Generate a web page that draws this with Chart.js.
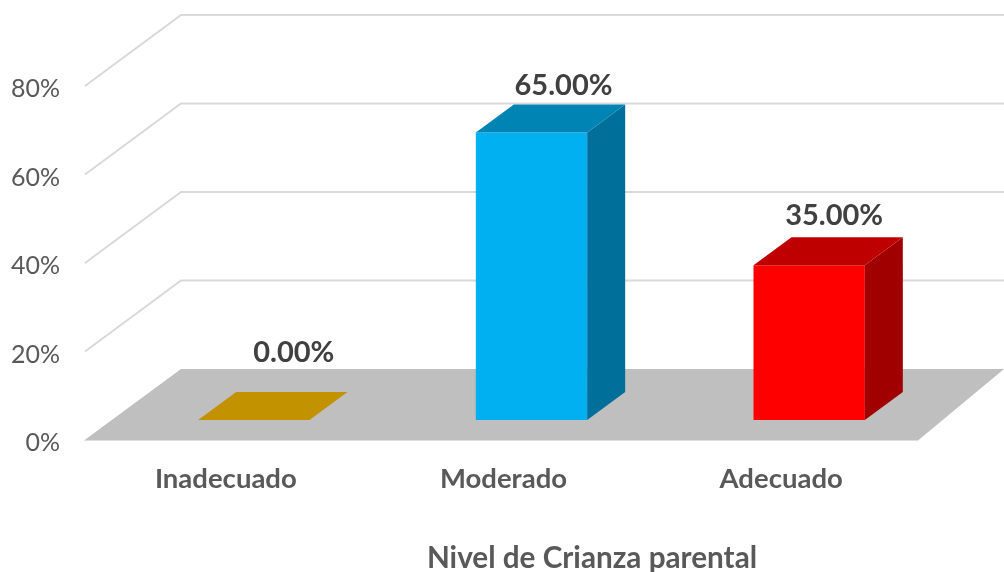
<!DOCTYPE html>
<html>
<head>
<meta charset="utf-8">
<style>
html, body { margin: 0; padding: 0; background: #fff; }
#wrap { position: relative; width: 1004px; height: 572px; }
</style>
<script src="https://cdn.jsdelivr.net/npm/chart.js@4"></script>
</head>
<body>
<div id="wrap"><canvas id="chart"></canvas></div>
<script>
// datos
const categories = ['Inadecuado', 'Moderado', 'Adecuado'];
const values = [0, 65, 35];
const valueLabels = ['0.00%', '65.00%', '35.00%'];
const frontColors = ['#C29200', '#00B0F0', '#FF0000'];
const topColors = ['#C29200', '#0084B4', '#BF0000'];
const sideColors = ['#936F00', '#006F9A', '#A00000'];
const axisTitle = 'Nivel de Crianza parental';

const FONT = 'Lato, "Open Sans", sans-serif';

// polígono relleno
function poly(ctx, pts, color) {
    ctx.fillStyle = color;
    ctx.beginPath();
    pts.forEach((p, i) => i ? ctx.lineTo(p[0], p[1]) : ctx.moveTo(p[0], p[1]));
    ctx.closePath();
    ctx.fill();
}

// piso y paredes detrás de las barras
const wallPlugin = {
    id: 'wall',
    beforeDatasetsDraw(chart) {
        const ctx = chart.ctx;
        const y = chart.scales.y;
        ctx.save();
        const z0 = y.getPixelForValue(0) + 20;
        poly(ctx, [[84, z0 + 0.5], [181, z0 - 71], [1004, z0 - 71], [918, z0 + 0.5]], '#BFBFBF');
        ctx.strokeStyle = '#D9D9D9';
        ctx.lineWidth = 2;
        y.ticks.forEach(t => {
            if (t.value === 0) return;
            const py = y.getPixelForValue(t.value) + 20;
            ctx.beginPath();
            ctx.moveTo(85, py);
            ctx.lineTo(181, py - 71);
            ctx.lineTo(1004, py - 71);
            ctx.stroke();
        });
        ctx.restore();
    }
};

// caras laterales, superiores, etiquetas y título del eje
const facesPlugin = {
    id: 'faces',
    afterDatasetsDraw(chart) {
        const ctx = chart.ctx;
        const meta = chart.getDatasetMeta(0);
        const dx = 38, dy = 28;
        // las etiquetas están movidas a mano en el original
        const nudgeX = [40, 32, 25];
        const nudgeY = [-67, -47, -49];
        ctx.save();
        meta.data.forEach((bar, i) => {
            const half = bar.width / 2;
            const l = bar.x - half, r = bar.x + half, t = bar.y, b = bar.base;
            if (b - t > 0) {
                poly(ctx, [[r, t], [r + dx, t - dy], [r + dx, b - dy], [r, b]], sideColors[i]);
            }
            poly(ctx, [[l, t], [l + dx, t - dy], [r + dx, t - dy], [r, t]], topColors[i]);
            ctx.fillStyle = '#404040';
            ctx.font = 'bold 29px ' + FONT;
            ctx.textAlign = 'center';
            ctx.textBaseline = 'middle';
            ctx.fillText(valueLabels[i], bar.x + nudgeX[i], t + nudgeY[i]);
        });
        ctx.fillStyle = '#595959';
        ctx.font = 'bold 29.7px ' + FONT;
        ctx.textAlign = 'center';
        ctx.textBaseline = 'middle';
        ctx.fillText(axisTitle, 592, 558);
        ctx.restore();
    }
};

new Chart(document.getElementById('chart'), {
    type: 'bar',
    data: {
        labels: categories,
        datasets: [{
            data: values,
            backgroundColor: frontColors,
            barPercentage: 0.401,
            categoryPercentage: 1
        }]
    },
    options: {
        responsive: true,
        maintainAspectRatio: false,
        animation: false,
        layout: { padding: { top: 66, right: 56, left: 0, bottom: 0 } },
        plugins: { legend: { display: false }, tooltip: { enabled: false } },
        scales: {
            x: {
                grid: { display: false, drawTicks: false },
                border: { display: false },
                ticks: {
                    color: '#595959',
                    font: { family: FONT, size: 27.5, weight: 'bold' },
                    labelOffset: -28,
                    padding: 43,
                    maxRotation: 0
                },
                afterFit(scale) { scale.height = 152; }
            },
            y: {
                min: 0,
                max: 80,
                grid: { display: false, drawTicks: false },
                border: { display: false },
                ticks: {
                    stepSize: 20,
                    color: '#595959',
                    font: { family: FONT, size: 25 },
                    labelOffset: 23,
                    padding: 55,
                    callback: v => v + '%'
                },
                afterFit(scale) {
                    scale.width = 115;
                    scale.paddingTop = 0;
                    scale.paddingBottom = 0;
                }
            }
        }
    },
    plugins: [wallPlugin, facesPlugin]
});
</script>
</body>
</html>
